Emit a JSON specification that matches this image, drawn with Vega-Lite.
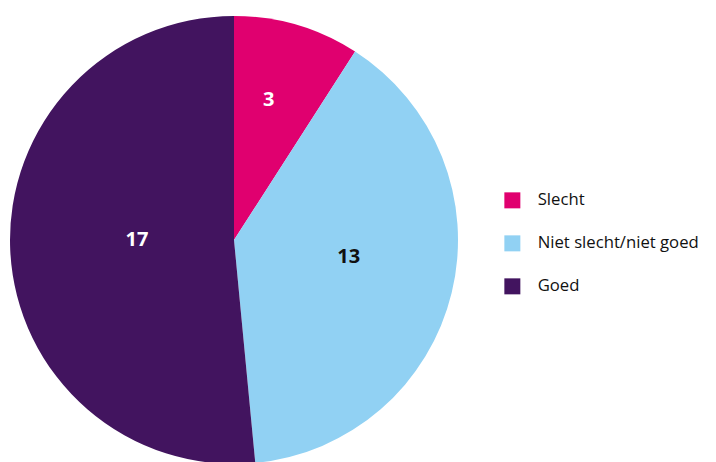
{
  "$schema": "https://vega.github.io/schema/vega-lite/v6.json",
  "width": 448,
  "height": 448,
  "autosize": "none",
  "padding": {"left": 10, "top": 16, "right": 258, "bottom": 0},
  "background": "white",
  "config": {"view": {"stroke": null}},
  "data": {
    "values": [
      {"categorie": "Slecht", "aantal": 3, "volgorde": 1},
      {"categorie": "Niet slecht/niet goed", "aantal": 13, "volgorde": 2},
      {"categorie": "Goed", "aantal": 17, "volgorde": 3}
    ]
  },
  "encoding": {
    "theta": {"field": "aantal", "type": "quantitative", "stack": true},
    "order": {"field": "volgorde", "type": "quantitative"}
  },
  "layer": [
    {
      "mark": {"type": "arc", "outerRadius": 224},
      "encoding": {
        "color": {
          "field": "categorie",
          "type": "nominal",
          "sort": null,
          "scale": {
            "domain": ["Slecht", "Niet slecht/niet goed", "Goed"],
            "range": ["#e0006f", "#91d1f3", "#42145f"]
          },
          "legend": {
            "title": null,
            "orient": "none",
            "legendX": 494,
            "legendY": 176,
            "symbolType": "square",
            "symbolSize": 256,
            "symbolStrokeWidth": 0,
            "symbolOpacity": 1,
            "labelFont": "Open Sans",
            "labelFontSize": 16.7,
            "labelColor": "#111111",
            "labelOffset": 17,
            "rowPadding": 25,
            "labelLimit": 300
          }
        }
      }
    },
    {
      "mark": {"type": "text", "radius": 144, "thetaOffset": -0.042, "font": "Open Sans", "fontWeight": "bold", "fontSize": 20, "color": "white"},
      "encoding": {
        "text": {"field": "aantal", "type": "quantitative"},
        "opacity": {"condition": {"test": "datum.categorie === 'Slecht'", "value": 1}, "value": 0}
      }
    },
    {
      "mark": {"type": "text", "radius": 116, "thetaOffset": -0.091, "font": "Open Sans", "fontWeight": "bold", "fontSize": 20, "color": "#111111"},
      "encoding": {
        "text": {"field": "aantal", "type": "quantitative"},
        "opacity": {"condition": {"test": "datum.categorie === 'Niet slecht/niet goed'", "value": 1}, "value": 0}
      }
    },
    {
      "mark": {"type": "text", "radius": 97, "thetaOffset": 0.052, "font": "Open Sans", "fontWeight": "bold", "fontSize": 20, "color": "white"},
      "encoding": {
        "text": {"field": "aantal", "type": "quantitative"},
        "opacity": {"condition": {"test": "datum.categorie === 'Goed'", "value": 1}, "value": 0}
      }
    }
  ]
}
